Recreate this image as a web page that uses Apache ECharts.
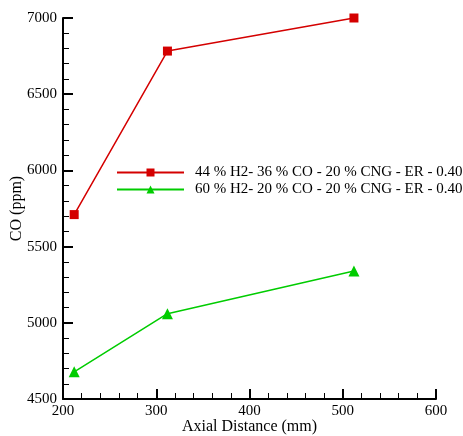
<!DOCTYPE html>
<html>
<head>
<meta charset="utf-8">
<script src="https://cdn.jsdelivr.net/npm/echarts@6.0.0/dist/echarts.min.js"></script>
<style>
  html, body { margin: 0; padding: 0; background: #fff; }
  #chart { width: 463px; height: 436px; }
</style>
</head>
<body>
<div id="chart"></div>
<script>
  const axialDistance = [212, 312, 512];
  const coMix44 = [5710, 6783, 7000];
  const coMix60 = [4678, 5060, 5340];
  const seriesNames = [
    '44 % H2- 36 % CO - 20 % CNG - ER - 0.40',
    '60 % H2- 20 % CO - 20 % CNG - ER - 0.40'
  ];

  const font = 'Liberation Serif';
  const axisCommon = {
    axisLine: { show: true, lineStyle: { color: '#000', width: 2 } },
    axisTick: { show: true, inside: true, length: 10, lineStyle: { color: '#000', width: 2 } },
    minorTick: { show: true, splitNumber: 5, length: 6, lineStyle: { color: '#000', width: 1 } },
    splitLine: { show: false },
    axisLabel: { color: '#000', fontFamily: font, fontSize: 15, formatter: v => String(v) },
    nameTextStyle: { color: '#000', fontFamily: font, fontSize: 16 },
    nameMoveOverlap: false
  };

  const chart = echarts.init(document.getElementById('chart'));
  chart.setOption({
    animation: false,
    grid: { left: 63, right: 27, top: 18, bottom: 37, containLabel: false, outerBoundsMode: 'none' },
    legend: {
      orient: 'vertical',
      left: 111,
      top: 160,
      itemWidth: 67,
      itemHeight: 10,
      itemGap: 2,
      textStyle: { color: '#000', fontFamily: font, fontSize: 15, padding: [0, 0, 0, 6] },
      data: seriesNames
    },
    xAxis: Object.assign({}, axisCommon, {
      type: 'value',
      min: 200,
      max: 600,
      interval: 100,
      name: 'Axial Distance (mm)',
      nameLocation: 'middle',
      nameGap: 20,
      axisLabel: Object.assign({}, axisCommon.axisLabel, { margin: 5 })
    }),
    yAxis: Object.assign({}, axisCommon, {
      type: 'value',
      min: 4500,
      max: 7000,
      interval: 500,
      name: 'CO (ppm)',
      nameLocation: 'middle',
      nameGap: 38,
      axisLabel: Object.assign({}, axisCommon.axisLabel, { margin: 6 })
    }),
    series: [
      {
        name: seriesNames[0],
        type: 'line',
        data: axialDistance.map((x, i) => [x, coMix44[i]]),
        symbol: 'rect',
        symbolSize: 9,
        itemStyle: { color: '#d40000' },
        lineStyle: { color: '#d40000', width: 1.5 }
      },
      {
        name: seriesNames[1],
        type: 'line',
        data: axialDistance.map((x, i) => [x, coMix60[i]]),
        symbol: 'triangle',
        symbolSize: 11,
        itemStyle: { color: '#00cc00' },
        lineStyle: { color: '#00cc00', width: 1.5 }
      }
    ]
  });
</script>
</body>
</html>
